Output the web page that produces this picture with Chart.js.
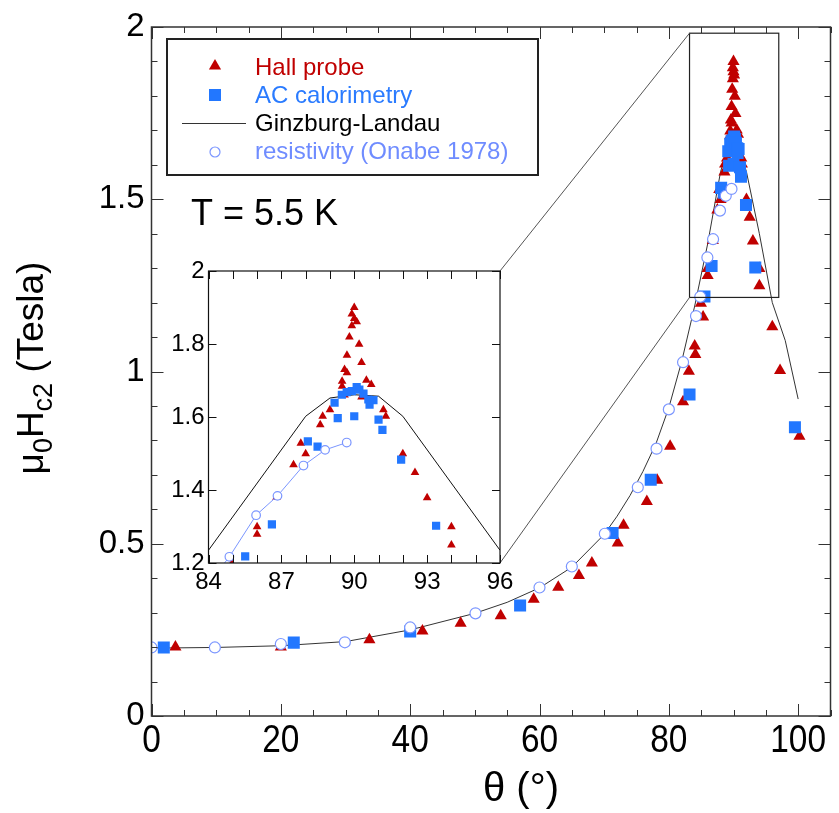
<!DOCTYPE html>
<html>
<head>
<meta charset="utf-8">
<script src="https://cdn.jsdelivr.net/npm/chart.js@4.4.0/dist/chart.umd.min.js"></script>
<style>
  html, body { margin: 0; padding: 0; background: #fff; }
  #wrap { position: relative; width: 839px; height: 813px; }
  #main { position: absolute; left: 0; top: 0; }
  #inset { position: absolute; left: 150px; top: 255px; }
</style>
</head>
<body>
<div id="wrap">
  <canvas id="main" width="839" height="813"></canvas>
  <canvas id="inset" width="385" height="345"></canvas>
</div>
<script>
// Hall probe (triangles)
const hallX = [3.7, 20.0, 33.7, 41.9, 47.8, 54.0, 59.1, 62.9, 66.1, 68.1, 72.1, 73.0, 76.6, 78.2, 80.2, 82.2, 83.1, 84.0, 84.1, 85.3,
  84.96, 86.0, 86.0, 86.8, 87.5, 87.8, 88.0, 88.6, 88.7, 89.0, 89.5, 89.5, 89.6, 89.7, 89.7, 89.8, 89.9, 89.9, 90.0, 90.0, 90.1,
  90.2, 90.3, 90.5, 90.7, 89.6, 90.3, 91.2, 91.3, 92.0, 92.5, 93.0, 94.0, 94.0, 96.0, 97.2, 100.2];
const hallY = [0.200, 0.200, 0.221, 0.247, 0.269, 0.291, 0.339, 0.374, 0.408, 0.444, 0.502, 0.554, 0.623, 0.684, 0.783, 0.912, 1.001, 1.074, 1.049, 1.158,
  1.198, 1.279, 1.299, 1.380, 1.469, 1.528, 1.499, 1.579, 1.602, 1.620, 1.684, 1.698, 1.730, 1.721, 1.769, 1.819, 1.850, 1.882, 1.900, 1.870, 1.861,
  1.799, 1.749, 1.701, 1.689, 1.660, 1.655, 1.620, 1.602, 1.499, 1.448, 1.379, 1.299, 1.249, 1.130, 1.003, 0.812];

// AC calorimetry (squares)
const acX = [1.9, 22.0, 40.0, 57.0, 71.3, 77.2, 83.2, 85.51, 86.61, 88.09, 88.49, 89.19, 89.32, 89.49, 89.69, 89.90, 90.0, 90.1, 90.21,
  90.38, 90.58, 90.63, 90.79, 91.0, 91.16, 91.93, 93.37, 99.5];
const acY = [0.199, 0.213, 0.245, 0.321, 0.531, 0.686, 0.933, 1.218, 1.306, 1.533, 1.519, 1.639, 1.597, 1.661, 1.668, 1.671, 1.602, 1.682, 1.675,
  1.664, 1.648, 1.634, 1.646, 1.593, 1.565, 1.483, 1.302, 0.838];

// resistivity, Onabe 1978 (open circles)
const resX = [0, 9.8, 20.0, 29.9, 40.0, 50.1, 60.0, 65.0, 70.1, 75.2, 78.1, 80.0, 82.2, 84.2, 84.86, 85.96, 86.84, 87.91, 88.80, 89.69];
const resY = [0.199, 0.199, 0.209, 0.214, 0.257, 0.298, 0.373, 0.434, 0.529, 0.664, 0.776, 0.890, 1.027, 1.161, 1.217, 1.331, 1.384, 1.467, 1.510, 1.530];

// Ginzburg-Landau curve, main panel
const glX = [0, 10, 20, 30, 40, 50, 55, 60, 65, 70, 72, 74, 76, 78, 80, 82, 84, 86, 88, 89, 90, 91, 92, 94, 96, 98, 100];
const glY = [0.197, 0.199, 0.204, 0.216, 0.250, 0.298, 0.330, 0.372, 0.432, 0.527, 0.580, 0.640, 0.710, 0.790, 0.895, 1.030, 1.190, 1.370, 1.580, 1.640, 1.660, 1.640, 1.580, 1.400, 1.200, 1.090, 0.920];

// Ginzburg-Landau curve, inset
const glInsetX = [84, 88, 89, 90, 91, 92, 96];
const glInsetY = [1.235, 1.602, 1.652, 1.661, 1.657, 1.602, 1.235];

// ticks
const mainXTicks = [0, 20, 40, 60, 80, 100];
const mainYTicks = [0, 0.5, 1, 1.5, 2];
const mainYLabels = ['0', '0.5', '1', '1.5', '2'];
const insetXTicks = [84, 87, 90, 93, 96];
const insetYTicks = [1.2, 1.4, 1.6, 1.8, 2];
const insetYLabels = ['1.2', '1.4', '1.6', '1.8', '2'];

// zoom box drawn on the main panel
const boxX = [83.2, 97.0];
const boxY = [1.215, 1.982];

const FONT = '"Liberation Sans", Arial, sans-serif';
const RED = '#c00000';
const BLUE = '#2277ff';
const LIGHT = '#7b96ff';

function pts(xs, ys) {
  return xs.map((x, i) => ({ x: x, y: ys[i] }));
}

function range(a, b, step) {
  const out = [];
  for (let v = a; v <= b + 1e-9; v += step) out.push(Math.round(v * 1000) / 1000);
  return out;
}

function drawTicks(chart, o) {
  const { ctx, chartArea: a } = chart;
  const x = chart.scales.x, y = chart.scales.y;
  ctx.save();
  ctx.strokeStyle = o.color;
  ctx.lineWidth = 1;
  ctx.beginPath();
  o.xMinor.forEach(v => {
    const px = Math.round(x.getPixelForValue(v)) + 0.5;
    const len = o.xMajor.includes(v) ? o.major : o.minor;
    ctx.moveTo(px, a.bottom); ctx.lineTo(px, a.bottom - len);
    ctx.moveTo(px, a.top); ctx.lineTo(px, a.top + len);
  });
  o.yMinor.forEach(v => {
    const py = Math.round(y.getPixelForValue(v)) + 0.5;
    const len = o.yMajor.includes(v) ? o.major : o.minor;
    ctx.moveTo(a.left, py); ctx.lineTo(a.left + len, py);
    ctx.moveTo(a.right, py); ctx.lineTo(a.right - len, py);
  });
  ctx.stroke();
  ctx.lineWidth = o.lw;
  ctx.strokeRect(a.left, a.top, a.right - a.left, a.bottom - a.top);
  ctx.restore();
}

const whiteBg = {
  id: 'whiteBg',
  beforeDraw(chart, args, opts) {
    const { ctx, chartArea: a } = chart;
    ctx.save();
    ctx.fillStyle = '#fff';
    if (opts.full) ctx.fillRect(0, 0, chart.width, chart.height);
    else ctx.fillRect(a.left, a.top, a.right - a.left, a.bottom - a.top);
    ctx.restore();
  }
};

const insetFrame = {
  id: 'insetFrame',
  afterDraw(chart) {
    const { ctx, chartArea: a } = chart;
    const x = chart.scales.x, y = chart.scales.y;
    drawTicks(chart, {
      color: '#111', lw: 1.2, major: 8, minor: 8,
      xMinor: range(84, 96, 1), xMajor: range(84, 96, 1),
      yMinor: insetYTicks, yMajor: insetYTicks
    });
    ctx.save();
    ctx.fillStyle = '#000';
    ctx.font = '24px ' + FONT;
    ctx.textAlign = 'center';
    ctx.textBaseline = 'alphabetic';
    insetXTicks.forEach(v => ctx.fillText(String(v), x.getPixelForValue(v), a.bottom + 26));
    ctx.textAlign = 'right';
    ctx.textBaseline = 'middle';
    insetYTicks.forEach((v, i) => ctx.fillText(insetYLabels[i], a.left - 4, y.getPixelForValue(v)));
    ctx.restore();
  }
};

const insetChart = new Chart(document.getElementById('inset'), {
  type: 'scatter',
  data: {
    datasets: [
      { data: pts(resX, resY), showLine: true, borderColor: LIGHT, borderWidth: 1,
        pointStyle: 'circle', pointRadius: 4.3, pointBackgroundColor: '#fff', pointBorderColor: LIGHT, pointBorderWidth: 1.2, order: 0 },
      { data: pts(acX, acY), pointStyle: 'rect', pointRadius: 5.8, backgroundColor: BLUE, borderColor: BLUE, borderWidth: 0, order: 1 },
      { data: pts(hallX, hallY), pointStyle: 'triangle', pointRadius: 5, backgroundColor: RED, borderColor: RED, borderWidth: 0, order: 2 },
      { data: pts(glInsetX, glInsetY), showLine: true, pointRadius: 0, borderColor: '#111', borderWidth: 1, order: 3 }
    ]
  },
  options: {
    responsive: false,
    animation: false,
    events: [],
    layout: { padding: { left: 0, right: 35, top: 16, bottom: 0 } },
    plugins: { legend: { display: false }, tooltip: { enabled: false }, whiteBg: { full: false } },
    scales: {
      x: { type: 'linear', min: 84, max: 96, grid: { display: false }, border: { display: false },
        ticks: { display: false }, afterFit: s => { s.height = 37; } },
      y: { type: 'linear', min: 1.2, max: 2, grid: { display: false }, border: { display: false },
        ticks: { display: false }, afterFit: s => { s.width = 58.5; } }
    }
  },
  plugins: [whiteBg, insetFrame]
});

const mainFrame = {
  id: 'mainFrame',
  afterDraw(chart) {
    const { ctx, chartArea: a } = chart;
    const x = chart.scales.x, y = chart.scales.y;
    drawTicks(chart, {
      color: '#333', lw: 1.5, major: 12, minor: 6,
      xMinor: range(0, 105, 5), xMajor: mainXTicks,
      yMinor: range(0, 2, 0.1), yMajor: mainYTicks
    });

    ctx.save();
    ctx.fillStyle = '#000';
    // x tick labels (tall, slightly narrow glyphs)
    ctx.font = '38px ' + FONT;
    ctx.textAlign = 'center';
    ctx.textBaseline = 'alphabetic';
    mainXTicks.forEach(v => {
      ctx.save();
      ctx.translate(x.getPixelForValue(v), a.bottom + 36);
      ctx.scale(0.88, 1);
      ctx.fillText(String(v), 0, 0);
      ctx.restore();
    });
    // y tick labels
    ctx.font = '33px ' + FONT;
    ctx.textAlign = 'right';
    ctx.textBaseline = 'middle';
    mainYTicks.forEach((v, i) => ctx.fillText(mainYLabels[i], a.left - 7, y.getPixelForValue(v)));

    // x title
    ctx.font = '40px ' + FONT;
    ctx.textAlign = 'center';
    ctx.textBaseline = 'alphabetic';
    ctx.fillText('θ (°)', 521, 801);

    // y title with subscripts
    ctx.save();
    ctx.translate(43, 368);
    ctx.rotate(-Math.PI / 2);
    const big = '37px ' + FONT, small = '27px ' + FONT;
    const parts = [['μ', big, 0], ['0', small, 9], ['H', big, 0], ['c2', small, 9], [' (Tesla)', big, 0]];
    let total = 0;
    parts.forEach(p => { ctx.font = p[1]; total += ctx.measureText(p[0]).width; });
    let cx = -total / 2;
    ctx.textAlign = 'left';
    parts.forEach(p => { ctx.font = p[1]; ctx.fillText(p[0], cx, p[2]); cx += ctx.measureText(p[0]).width; });
    ctx.restore();

    // temperature note
    ctx.font = '36px ' + FONT;
    ctx.textAlign = 'left';
    ctx.fillText('T = 5.5 K', 191, 225);

    // zoom box and connectors to the inset
    const bx0 = x.getPixelForValue(boxX[0]), bx1 = x.getPixelForValue(boxX[1]);
    const by0 = y.getPixelForValue(boxY[1]), by1 = y.getPixelForValue(boxY[0]);
    ctx.strokeStyle = '#222';
    ctx.lineWidth = 1.2;
    ctx.strokeRect(bx0, by0, bx1 - bx0, by1 - by0);
    const ia = insetChart.chartArea;
    const ox = 150, oy = 255;
    ctx.strokeStyle = '#555';
    ctx.lineWidth = 1;
    ctx.beginPath();
    ctx.moveTo(ox + ia.right, oy + ia.top); ctx.lineTo(bx0, by0);
    ctx.moveTo(ox + ia.right, oy + ia.bottom); ctx.lineTo(bx0, by1);
    ctx.stroke();

    // legend
    ctx.strokeStyle = '#222';
    ctx.lineWidth = 2;
    ctx.fillStyle = '#fff';
    ctx.fillRect(167, 39, 371, 136);
    ctx.strokeRect(167, 39, 371, 136);
    const mx = 215, tx = 255;
    // triangle
    ctx.fillStyle = RED;
    ctx.beginPath();
    ctx.moveTo(mx, 66 - 7); ctx.lineTo(mx + 6.1, 66 + 3.5); ctx.lineTo(mx - 6.1, 66 + 3.5); ctx.closePath();
    ctx.fill();
    // square
    ctx.fillStyle = BLUE;
    ctx.fillRect(mx - 6, 95 - 6, 12, 12);
    // line
    ctx.strokeStyle = '#333';
    ctx.lineWidth = 1;
    ctx.beginPath(); ctx.moveTo(182, 123.5); ctx.lineTo(246, 123.5); ctx.stroke();
    // circle
    ctx.strokeStyle = LIGHT;
    ctx.lineWidth = 1.2;
    ctx.beginPath(); ctx.arc(mx, 152, 5, 0, Math.PI * 2); ctx.stroke();

    ctx.font = '24px ' + FONT;
    ctx.textBaseline = 'alphabetic';
    ctx.fillStyle = RED; ctx.fillText('Hall probe', tx, 75);
    ctx.fillStyle = '#2a7bff'; ctx.fillText('AC calorimetry', tx, 103);
    ctx.fillStyle = '#000'; ctx.fillText('Ginzburg-Landau', tx, 131);
    ctx.fillStyle = '#6f8cff'; ctx.fillText('resistivity (Onabe 1978)', tx, 159);
    ctx.restore();
  }
};

const mainChart = new Chart(document.getElementById('main'), {
  type: 'scatter',
  data: {
    datasets: [
      { label: 'resistivity (Onabe 1978)', data: pts(resX, resY), pointStyle: 'circle', pointRadius: 5.5,
        backgroundColor: '#fff', borderColor: LIGHT, borderWidth: 1.2, order: 0 },
      { label: 'AC calorimetry', data: pts(acX, acY), pointStyle: 'rect', pointRadius: 8.5,
        backgroundColor: BLUE, borderColor: BLUE, borderWidth: 0, order: 1 },
      { label: 'Hall probe', data: pts(hallX, hallY), pointStyle: 'triangle', pointRadius: 7,
        backgroundColor: RED, borderColor: RED, borderWidth: 0, order: 2 },
      { label: 'Ginzburg-Landau', data: pts(glX, glY), showLine: true, pointRadius: 0,
        borderColor: '#333', borderWidth: 1, order: 3 }
    ]
  },
  options: {
    responsive: false,
    animation: false,
    events: [],
    layout: { padding: { left: 0, right: 5, top: 27, bottom: 0 } },
    plugins: { legend: { display: false }, tooltip: { enabled: false }, whiteBg: { full: true } },
    scales: {
      x: { type: 'linear', min: 0, max: 105, grid: { display: false }, border: { display: false },
        ticks: { display: false }, afterFit: s => { s.height = 97; } },
      y: { type: 'linear', min: 0, max: 2, grid: { display: false }, border: { display: false },
        ticks: { display: false }, afterFit: s => { s.width = 151.5; } }
    }
  },
  plugins: [whiteBg, mainFrame]
});
</script>
</body>
</html>
